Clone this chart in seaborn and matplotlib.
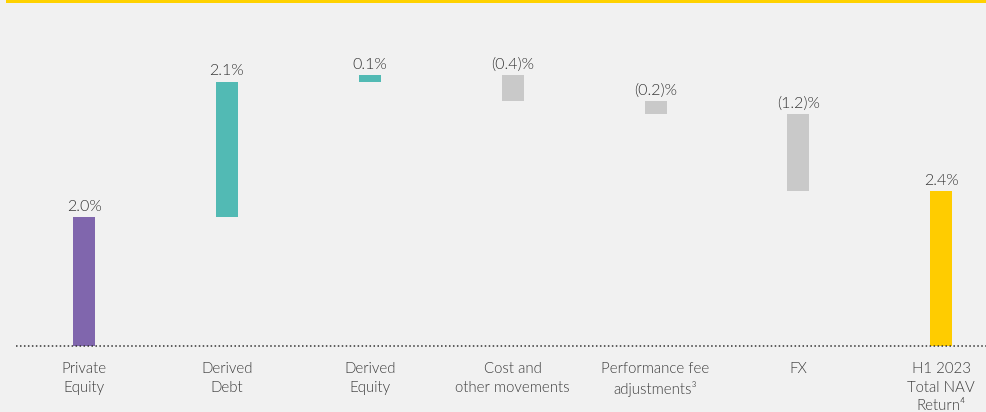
import numpy as np
import pandas as pd
import seaborn as sns
import matplotlib.pyplot as plt
from matplotlib.patches import Rectangle

# Data
categories = ["Private\nEquity", "Derived\nDebt", "Derived\nEquity", "Cost and\nother movements",
              "Performance fee\nadjustments³", "FX", "H1 2023\nTotal NAV\nReturn⁴"]
changes = [2.0, 2.1, 0.1, -0.4, -0.2, -1.2, 2.4]
is_total = [False, False, False, False, False, False, True]
value_labels = ["2.0%", "2.1%", "0.1%", "(0.4)%", "(0.2)%", "(1.2)%", "2.4%"]
bar_colors = ["#8066AD", "#52BAB4", "#52BAB4", "#C9C9C9", "#C9C9C9", "#C9C9C9", "#FFCC00"]

# waterfall bottoms / heights
bottoms, heights = [], []
running = 0.0
for c, tot in zip(changes, is_total):
    if tot:
        bottoms.append(0.0)
        heights.append(c)
        running = c
    else:
        lo = min(running, running + c)
        bottoms.append(lo)
        heights.append(abs(c))
        running += c

df = pd.DataFrame({"cat": categories, "height": heights, "bottom": bottoms})

sns.set_theme(style="white")
plt.rcParams["font.family"] = ["Lato", "DejaVu Sans"]

bg = "#F1F1F1"
fig = plt.figure(figsize=(9.87, 4.12), dpi=100, facecolor=bg)
ax = fig.add_axes([16 / 987, 66 / 412, 971 / 987, 341 / 412])
ax.set_facecolor("none")

sns.barplot(data=df, x="cat", y="height", bottom=df["bottom"].values, order=categories,
            width=0.154, color="#999999", saturation=1, linewidth=0, ax=ax)
for patch, col in zip(ax.patches, bar_colors):
    patch.set_facecolor(col)
    patch.set_edgecolor("none")

# value labels above each bar
for i, (b, h, lab) in enumerate(zip(bottoms, heights, value_labels)):
    ax.text(i, b + h + 0.05, lab, ha="center", va="bottom", fontsize=11.5,
            fontweight=300, color="#333333")

ax.set_xlim(-0.476, 6.32)
ax.set_ylim(0, 5.29)
ax.axhline(0, color="#333333", linestyle=(0, (1, 1.6)), linewidth=1.1, clip_on=False)

ax.set_xlabel("")
ax.set_ylabel("")
ax.set_yticks([])
ax.tick_params(axis="x", length=0, pad=11.5, labelsize=10.8, labelcolor="#3c3c3c")
for lbl in ax.get_xticklabels():
    lbl.set_linespacing(1.42)
    lbl.set_fontweight(300)
sns.despine(ax=ax, left=True, bottom=True)

# yellow rule at the top
fig.patches.append(Rectangle((6 / 987, 409.5 / 412), 1, 3 / 412, transform=fig.transFigure,
                             facecolor="#FFD200", edgecolor="none"))

fig.savefig("out.png", dpi=100, facecolor=bg)
